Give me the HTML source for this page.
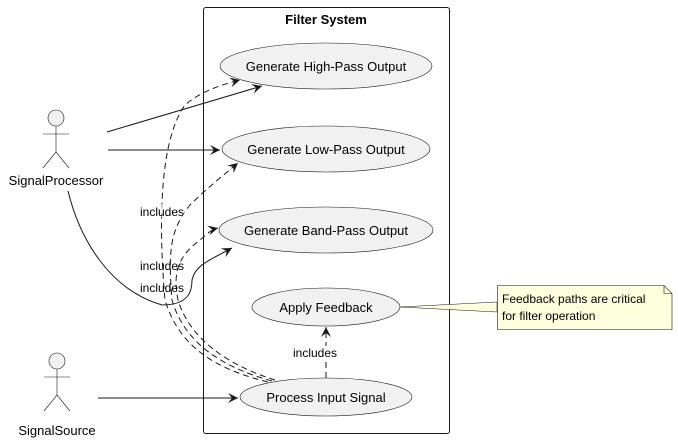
<!DOCTYPE html>
<html><head><meta charset="utf-8"><style>body{margin:0;background:#fff}svg{display:block}</style></head><body>
<svg width="678" height="441" viewBox="0 0 678 441" xmlns="http://www.w3.org/2000/svg" font-family="Liberation Sans, sans-serif">
<defs>
<marker id="a" markerWidth="12" markerHeight="10" refX="10" refY="5" orient="auto" markerUnits="userSpaceOnUse"><path d="M0,0 L10,5 L0,10 L4,5 Z" fill="#181818"/></marker>
</defs>
<rect x="203.5" y="7.5" width="246" height="426" rx="2.5" fill="none" stroke="#181818"/>
<text x="326" y="24" font-size="13" font-weight="bold" text-anchor="middle" fill="#000">Filter System</text>
<g fill="#f1f1f1" stroke="#181818" stroke-width="0.6">
<ellipse cx="326" cy="66" rx="106" ry="23"/>
<ellipse cx="326" cy="149" rx="104" ry="23"/>
<ellipse cx="326" cy="230" rx="107" ry="23"/>
<ellipse cx="326" cy="307" rx="74" ry="19"/>
<ellipse cx="326" cy="397" rx="86" ry="19"/>
</g>
<g font-size="13" text-anchor="middle" fill="#000">
<text x="326" y="71">Generate High-Pass Output</text>
<text x="326" y="154">Generate Low-Pass Output</text>
<text x="326" y="235">Generate Band-Pass Output</text>
<text x="326" y="312">Apply Feedback</text>
<text x="326" y="402">Process Input Signal</text>
</g>
<!-- actors -->
<g fill="none" stroke="#181818" stroke-width="0.6">
<circle cx="56" cy="118" r="8" fill="#f1f1f1"/>
<path d="M56,126 V152 M43,134 H69 M43,168 L56,152 L69,168"/>
<circle cx="57" cy="361" r="8" fill="#f1f1f1"/>
<path d="M57,369 V395 M44,377 H70 M44,411 L57,395 L70,411"/>
</g>
<g font-size="13" text-anchor="middle" fill="#000">
<text x="56" y="185">SignalProcessor</text>
<text x="57" y="435">SignalSource</text>
</g>
<!-- solid arrows -->
<g fill="none" stroke="#181818" stroke-width="1" marker-end="url(#a)">
<path d="M107,132 L262,86"/>
<path d="M108,150 L220,150"/>
<path d="M68,191 C80,240 110,290 162,305 C190,305 192,290 192,280 C195,265 210,260 232,248"/>
<path d="M98,398 L238,398"/>
</g>
<!-- dashed includes -->
<g fill="none" stroke="#181818" stroke-width="1" stroke-dasharray="6,4" marker-end="url(#a)">
<path d="M268,382 C220,370 180,350 165,300 C158,220 160,140 185,105 C200,92 220,85 240,80"/>
<path d="M272,381 C225,368 185,345 172,300 C168,250 170,230 190,205 C205,190 220,178 238,163"/>
<path d="M275,380 C230,366 190,340 178,300 C172,270 180,255 200,240 C205,236 210,230 218,228"/>
<path d="M326,378 L326,327"/>
</g>
<g font-size="12" text-anchor="middle" fill="#000">
<rect x="140" y="204" width="46" height="13" fill="#fff" opacity="0.6"/>
<text x="162" y="216">includes</text>
<text x="162" y="270">includes</text>
<text x="162" y="292">includes</text>
<rect x="291" y="346" width="48" height="13" fill="#fff"/>
<text x="315" y="357">includes</text>
</g>
<!-- note -->
<path d="M400,307 L497,302 L497,312 Z" fill="#feffdd" stroke="#181818" stroke-width="0.5"/>
<path d="M497.5,285.5 H664 L672,293.5 V329.5 H497.5 Z" fill="#feffdd" stroke="#181818" stroke-width="0.6"/>
<path d="M664,285.5 V293.5 H672" fill="none" stroke="#181818" stroke-width="0.6"/>
<g font-size="12" fill="#000">
<text x="502" y="303">Feedback paths are critical</text>
<text x="502" y="320">for filter operation</text>
</g>
</svg>
</body></html>
